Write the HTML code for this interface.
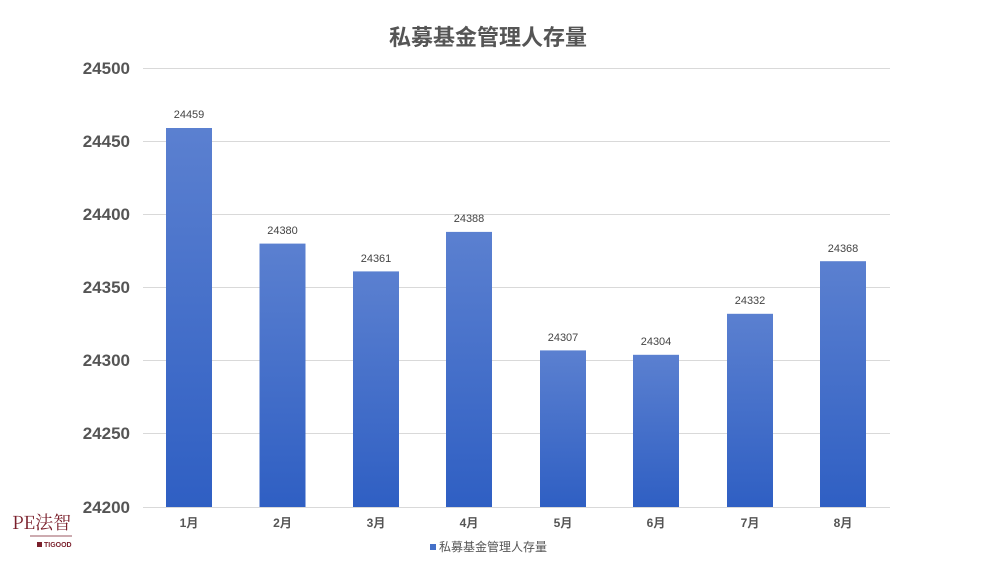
<!DOCTYPE html>
<html><head><meta charset="utf-8"><style>
body{margin:0;background:#fff;}
svg{display:block;font-family:"Liberation Sans","Noto Sans CJK SC",sans-serif;}
</style></head><body>
<svg width="1000" height="563" viewBox="0 0 1000 563">
<defs><linearGradient id="g" x1="0" y1="0" x2="0" y2="1">
<stop offset="0" stop-color="#5b80d0"/><stop offset="1" stop-color="#2f5fc3"/></linearGradient></defs>
<rect width="1000" height="563" fill="#fff"/>
<text x="488" y="45" text-anchor="middle" font-size="22" font-weight="bold" fill="#555">私募基金管理人存量</text>
<g stroke="#d9d9d9" stroke-width="1">
<line x1="143" x2="890" y1="68.5" y2="68.5"/>
<line x1="143" x2="890" y1="141.5" y2="141.5"/>
<line x1="143" x2="890" y1="214.5" y2="214.5"/>
<line x1="143" x2="890" y1="287.5" y2="287.5"/>
<line x1="143" x2="890" y1="360.5" y2="360.5"/>
<line x1="143" x2="890" y1="433.5" y2="433.5"/>
<line x1="143" x2="890" y1="507.5" y2="507.5"/>
</g>
<g font-size="17" font-weight="bold" fill="#555" text-anchor="end">
<text x="130" y="74">24500</text><text x="130" y="147">24450</text><text x="130" y="220">24400</text>
<text x="130" y="293">24350</text><text x="130" y="366">24300</text><text x="130" y="439">24250</text><text x="130" y="513">24200</text>
</g>
<g fill="url(#g)">
<rect x="166" y="128" width="46" height="379"/>
<rect x="259.5" y="243.6" width="46" height="263.4"/>
<rect x="353" y="271.4" width="46" height="235.6"/>
<rect x="446" y="231.9" width="46" height="275.1"/>
<rect x="540" y="350.4" width="46" height="156.6"/>
<rect x="633" y="354.8" width="46" height="152.2"/>
<rect x="727" y="313.8" width="46" height="193.2"/>
<rect x="820" y="261.2" width="46" height="245.8"/>
</g>
<g font-size="11" fill="#444" text-anchor="middle">
<text x="189" y="118">24459</text><text x="282.5" y="234">24380</text><text x="376" y="262">24361</text>
<text x="469" y="222">24388</text><text x="563" y="341">24307</text><text x="656" y="345">24304</text>
<text x="750" y="304">24332</text><text x="843" y="252">24368</text>
</g>
<g font-size="12" font-weight="bold" fill="#555" text-anchor="middle">
<text x="189" y="527">1月</text><text x="282.5" y="527">2月</text><text x="376" y="527">3月</text><text x="469" y="527">4月</text>
<text x="563" y="527">5月</text><text x="656" y="527">6月</text><text x="750" y="527">7月</text><text x="843" y="527">8月</text>
</g>
<rect x="430" y="544" width="6" height="6" fill="#4470c8"/>
<text x="439" y="551" font-size="12" fill="#555">私募基金管理人存量</text>
<text x="12" y="529" font-size="18" fill="#7a1f2b" font-family="'Noto Serif CJK SC','Liberation Serif',serif">PE法智</text>
<line x1="30" x2="72" y1="536" y2="536" stroke="#7a1f2b" stroke-width="0.8"/>
<rect x="37" y="542" width="5" height="5" fill="#7a1f2b"/>
<text x="44" y="547" font-size="7" fill="#7a1f2b" font-weight="bold">TIGOOD</text>
</svg>
</body></html>
